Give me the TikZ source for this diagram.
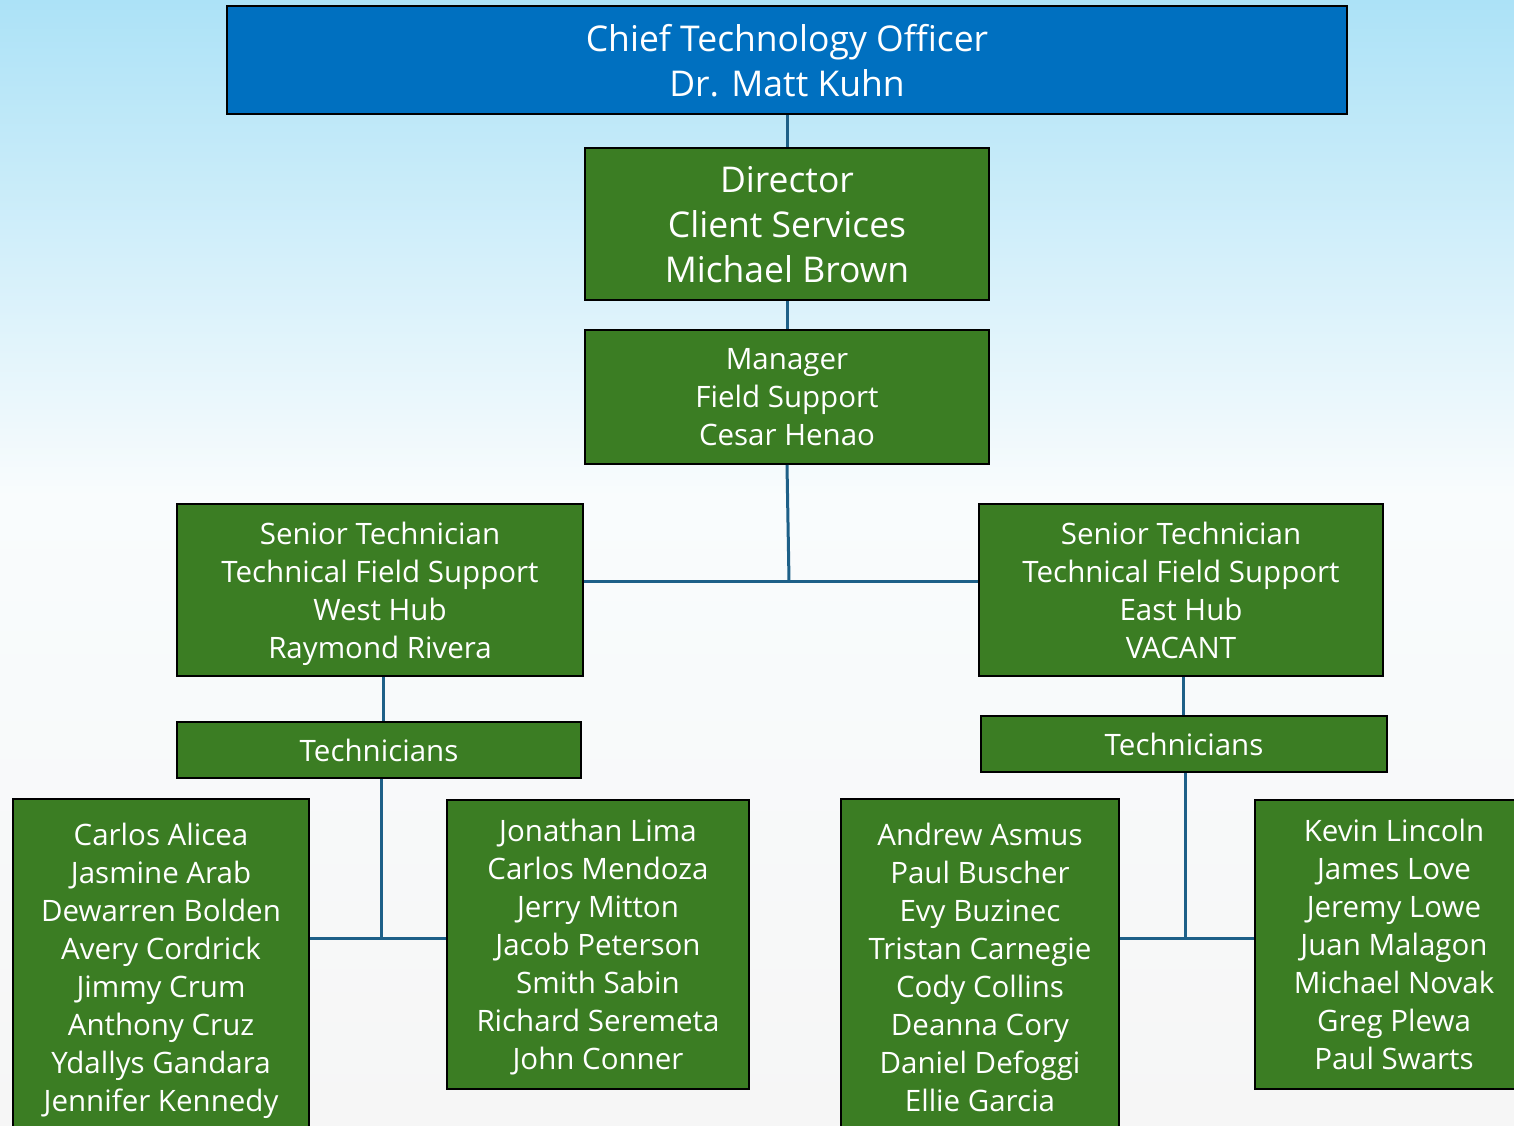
\documentclass[tikz,border=0pt]{standalone}
\usepackage{fontspec}
\setmainfont{Open Sans}
\usetikzlibrary{positioning,calc}
\definecolor{ctoblue}{RGB}{0,112,192}
\definecolor{boxgreen}{RGB}{59,125,35}
\definecolor{linkblue}{RGB}{30,96,136}
\definecolor{skytop}{RGB}{172,226,247}
\definecolor{skymid}{RGB}{249,252,253}
\definecolor{floorgray}{RGB}{246,246,246}
\pgfdeclareverticalshading{skyfade}{100bp}{color(0bp)=(floorgray); color(25bp)=(floorgray); color(53bp)=(skymid); color(75bp)=(skytop); color(100bp)=(skytop)}

\tikzset{
  orgbox/.style={draw=black, line width=2pt, fill=boxgreen, text=white, align=center,
    inner sep=0pt, text depth=0pt, font=\fontsize{29.5}{38}\selectfont},
  bigbox/.style={orgbox, font=\fontsize{35.5}{45}\selectfont},
  link/.style={draw=linkblue, line width=3pt}
}

\begin{document}
\begin{tikzpicture}[x=1pt, y=-1pt]
    % Page and background
    \useasboundingbox (0,0) rectangle (1514,1126);
    \shade[shading=skyfade] (0,0) rectangle (1514,1126);
    \clip (0,0) rectangle (1514,1126);

    % Top of the chart
    \node[bigbox, fill=ctoblue, minimum width=1120, minimum height=108] (cto) at (787,60)
        {Chief Technology Officer\\Dr. Matt Kuhn};
    \node[bigbox, minimum width=404, minimum height=152] (dir) at (787,224)
        {Director\\Client Services\\Michael Brown};
    \node[orgbox, minimum width=404, minimum height=134] (mgr) at (787,397)
        {Manager\\Field Support\\Cesar Henao};

    % Hubs
    \node[orgbox, minimum width=406, minimum height=172] (swest) at (380,590)
        {Senior Technician\\Technical Field Support\\West Hub\\Raymond Rivera};
    \node[orgbox, minimum width=404, minimum height=172] (seast) at (1181,590)
        {Senior Technician\\Technical Field Support\\East Hub\\VACANT};
    \node[orgbox, minimum width=404, minimum height=56] (twest) at (379,750) {Technicians};
    \node[orgbox, minimum width=406, minimum height=56] (teast) at (1184,744) {Technicians};

    % Technician lists
    \node[orgbox, minimum width=296, minimum height=336] (wa) at (161,967)
        {Carlos Alicea\\Jasmine Arab\\Dewarren Bolden\\Avery Cordrick\\Jimmy Crum\\Anthony Cruz\\Ydallys Gandara\\Jennifer Kennedy};
    \node[orgbox, minimum width=302, minimum height=289] (wb) at (598,944.5)
        {Jonathan Lima\\Carlos Mendoza\\Jerry Mitton\\Jacob Peterson\\Smith Sabin\\Richard Seremeta\\John Conner};
    \node[orgbox, minimum width=278, minimum height=336] (ea) at (980,967)
        {Andrew Asmus\\Paul Buscher\\Evy Buzinec\\Tristan Carnegie\\Cody Collins\\Deanna Cory\\Daniel Defoggi\\Ellie Garcia};
    \node[orgbox, minimum width=278, minimum height=289] (eb) at (1394,944.5)
        {Kevin Lincoln\\James Love\\Jeremy Lowe\\Juan Malagon\\Michael Novak\\Greg Plewa\\Paul Swarts};

    % Connectors
    \coordinate (hub) at (789,581);
    \coordinate (wdrop) at (383,677);
    \coordinate (edrop) at (1183,677);
    \coordinate (wjoin) at (381,938);
    \coordinate (ejoin) at (1185,938);
    \draw[link] (cto.south) -- (dir.north);
    \draw[link] (dir.south) -- (mgr.north);
    \draw[link] (mgr.south) -- (hub);
    \draw[link] (swest.east |- hub) -- (seast.west |- hub);
    \draw[link] (wdrop) -- (twest.north -| wdrop);
    \draw[link] (edrop) -- (teast.north -| edrop);
    \draw[link] (twest.south -| wjoin) -- (wjoin);
    \draw[link] (wa.east |- wjoin) -- (wb.west |- wjoin);
    \draw[link] (teast.south -| ejoin) -- (ejoin);
    \draw[link] (ea.east |- ejoin) -- (eb.west |- ejoin);
\end{tikzpicture}
\end{document}
